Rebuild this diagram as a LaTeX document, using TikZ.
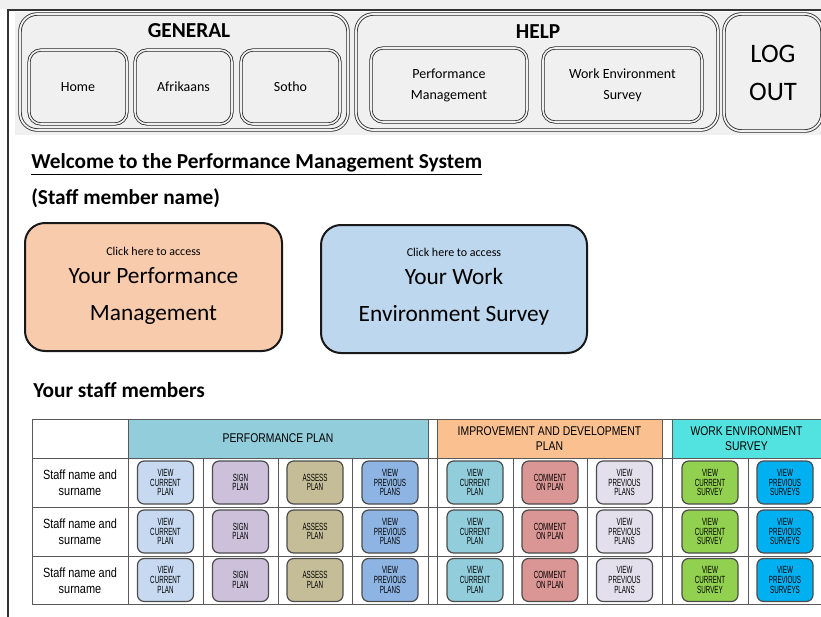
\documentclass[tikz,border=0pt]{standalone}
\usepackage{fontspec}
\setmainfont{Carlito}
\newfontfamily\tabfont[FakeStretch=0.82]{Liberation Sans}
\newfontfamily\btnfont[FakeStretch=0.6]{Liberation Sans}
\usepackage{tikz}

\definecolor{barfill}{HTML}{F0F0F0}
\definecolor{perforange}{HTML}{F8CBAD}
\definecolor{wesblue}{HTML}{BDD7EE}
\definecolor{hdrperf}{HTML}{92CDDC}
\definecolor{hdrimp}{HTML}{FAC090}
\definecolor{hdrwes}{HTML}{52E3E0}
\definecolor{curplan}{HTML}{C6D9F1}
\definecolor{signplan}{HTML}{CCC0DA}
\definecolor{assessplan}{HTML}{C4BD97}
\definecolor{prevplan}{HTML}{8DB4E2}
\definecolor{impcur}{HTML}{92CDDC}
\definecolor{comment}{HTML}{DA9694}
\definecolor{impprev}{HTML}{E4DFEC}
\definecolor{cursurvey}{HTML}{92D050}
\definecolor{prevsurvey}{HTML}{00B0F0}

\begin{document}
\begin{tikzpicture}[x=0.75pt,y=0.75pt,yscale=-1,xscale=1,
  grpbox/.style={draw=black!85, double=barfill, double distance=1.4pt, line width=0.6pt, rounded corners=13pt, inner sep=0pt},
  navbtn/.style={draw=black!85, double=barfill, double distance=1.2pt, line width=0.6pt, rounded corners=9pt, inner sep=0pt, minimum height=55.5pt, align=center, font=\fontsize{10.5}{15.75}\selectfont},
  grptitle/.style={inner sep=0pt, font=\bfseries\fontsize{16}{18}\selectfont},
  headline/.style={anchor=west, inner sep=0pt, font=\bfseries\fontsize{16}{18}\selectfont},
  bigbtn/.style={draw=black!90, line width=1.5pt, rounded corners=15pt, minimum height=96pt, inner sep=0pt},
  clicktxt/.style={inner sep=0pt, font=\fontsize{9}{10}\selectfont},
  bigtxt/.style={inner sep=0pt, align=center, font=\fontsize{17.5}{27.75}\selectfont},
  grid/.style={draw=black!65, line width=0.6pt},
  hdrtxt/.style={inner sep=0pt, align=center, font=\tabfont\fontsize{9.5}{11.25}\selectfont},
  nametxt/.style={inner sep=0pt, align=center, font=\tabfont\fontsize{10}{12}\selectfont},
  tblbtn/.style={draw=black!70, line width=0.9pt, rounded corners=5pt, minimum width=42pt, minimum height=32.25pt, inner sep=0pt, align=center, font=\btnfont\fontsize{7.8}{7.2}\selectfont}
]
\useasboundingbox (0,0) rectangle (821,617);

% top bar
\fill[gray!12] (0,0) rectangle (821,9);
\fill[barfill] (15,12) rectangle (821,135);
\draw[line width=1.1pt, black!80] (8,617) -- (8,10) -- (821,10);

\node[grpbox, minimum width=246pt, minimum height=87pt] (general) at (184,72) {};
\node[grptitle] (generaltitle) at (189,31) {GENERAL};
\node[navbtn, minimum width=73.5pt] (home) at (78,87) {Home};
\node[navbtn, minimum width=72.75pt] (afrikaans) at (183.5,87) {Afrikaans};
\node[navbtn, minimum width=74.25pt] (sotho) at (290.5,87) {Sotho};

\node[grpbox, minimum width=271.5pt, minimum height=87pt] (help) at (537,72) {};
\node[grptitle] (helptitle) at (538,32) {HELP};
\node[navbtn, minimum width=117pt] (helppm) at (449,85) {Performance\\Management};
\node[navbtn, minimum width=119.25pt] (helpwes) at (622.5,85) {Work Environment\\Survey};

\node[grpbox, minimum width=73.5pt, minimum height=87.75pt, align=center, font=\fontsize{20}{28.5}\selectfont] (logout) at (773,72.5) {LOG\\OUT};

% welcome
\node[headline] (welcome) at (31,164) {\underline{Welcome to the Performance Management System}};
\node[headline] (staffname) at (31,198) {(Staff member name)};

\node[bigbtn, fill=perforange, minimum width=192.75pt] (perfbox) at (153.5,287) {};
\node[clicktxt] (perfclick) at (153.5,251) {Click here to access};
\node[bigtxt] (perftxt) at (153.5,296) {Your Performance\\Management};

\node[bigbtn, fill=wesblue, minimum width=199.5pt] (wesbox) at (454,289) {};
\node[clicktxt] (wesclick) at (454,252) {Click here to access};
\node[bigtxt] (westxt) at (454,297) {Your Work\\Environment Survey};

\node[headline] (staffmembers) at (33,390) {Your staff members};

% table headers
\fill[hdrperf] (128,419) rectangle (428,458);
\fill[hdrimp] (437,419) rectangle (662,458);
\fill[hdrwes] (672,419) rectangle (821,458);
\node[hdrtxt] (hdrperftxt) at (278,438) {PERFORMANCE PLAN};
\node[hdrtxt] (hdrimptxt) at (549.5,439) {IMPROVEMENT AND DEVELOPMENT\\PLAN};
\node[hdrtxt] (hdrwestxt) at (746.5,439) {WORK ENVIRONMENT\\SURVEY};

% table grid
\draw[grid] (32,419) -- (821,419);
\draw[grid] (32,458) -- (821,458);
\draw[grid] (32,507) -- (821,507);
\draw[grid] (32,556) -- (821,556);
\draw[grid] (32,604) -- (821,604);
\draw[grid] (32,419) -- (32,604);
\draw[grid] (128,419) -- (128,604);
\draw[grid] (428,419) -- (428,604);
\draw[grid] (437,419) -- (437,604);
\draw[grid] (662,419) -- (662,604);
\draw[grid] (672,419) -- (672,604);
\draw[grid] (203,458) -- (203,604);
\draw[grid] (278,458) -- (278,604);
\draw[grid] (352,458) -- (352,604);
\draw[grid] (513,458) -- (513,604);
\draw[grid] (587,458) -- (587,604);
\draw[grid] (748,458) -- (748,604);

% row 1
\node[nametxt] (name1) at (80,483) {Staff name and\\surname};
\node[tblbtn, fill=curplan] (cur1) at (165.5,482.5) {VIEW\\CURRENT\\PLAN};
\node[tblbtn, fill=signplan] (sign1) at (240.5,482.5) {SIGN\\PLAN};
\node[tblbtn, fill=assessplan] (assess1) at (315,482.5) {ASSESS\\PLAN};
\node[tblbtn, fill=prevplan] (prev1) at (390,482.5) {VIEW\\PREVIOUS\\PLANS};
\node[tblbtn, fill=impcur] (impcur1) at (475,482.5) {VIEW\\CURRENT\\PLAN};
\node[tblbtn, fill=comment] (comment1) at (550,482.5) {COMMENT\\ON PLAN};
\node[tblbtn, fill=impprev] (impprev1) at (624.5,482.5) {VIEW\\PREVIOUS\\PLANS};
\node[tblbtn, fill=cursurvey] (cursurvey1) at (710,482.5) {VIEW\\CURRENT\\SURVEY};
\node[tblbtn, fill=prevsurvey] (prevsurvey1) at (785,482.5) {VIEW\\PREVIOUS\\SURVEYS};

% row 2
\node[nametxt] (name2) at (80,532) {Staff name and\\surname};
\node[tblbtn, fill=curplan] (cur2) at (165.5,531.5) {VIEW\\CURRENT\\PLAN};
\node[tblbtn, fill=signplan] (sign2) at (240.5,531.5) {SIGN\\PLAN};
\node[tblbtn, fill=assessplan] (assess2) at (315,531.5) {ASSESS\\PLAN};
\node[tblbtn, fill=prevplan] (prev2) at (390,531.5) {VIEW\\PREVIOUS\\PLANS};
\node[tblbtn, fill=impcur] (impcur2) at (475,531.5) {VIEW\\CURRENT\\PLAN};
\node[tblbtn, fill=comment] (comment2) at (550,531.5) {COMMENT\\ON PLAN};
\node[tblbtn, fill=impprev] (impprev2) at (624.5,531.5) {VIEW\\PREVIOUS\\PLANS};
\node[tblbtn, fill=cursurvey] (cursurvey2) at (710,531.5) {VIEW\\CURRENT\\SURVEY};
\node[tblbtn, fill=prevsurvey] (prevsurvey2) at (785,531.5) {VIEW\\PREVIOUS\\SURVEYS};

% row 3
\node[nametxt] (name3) at (80,581) {Staff name and\\surname};
\node[tblbtn, fill=curplan] (cur3) at (165.5,580) {VIEW\\CURRENT\\PLAN};
\node[tblbtn, fill=signplan] (sign3) at (240.5,580) {SIGN\\PLAN};
\node[tblbtn, fill=assessplan] (assess3) at (315,580) {ASSESS\\PLAN};
\node[tblbtn, fill=prevplan] (prev3) at (390,580) {VIEW\\PREVIOUS\\PLANS};
\node[tblbtn, fill=impcur] (impcur3) at (475,580) {VIEW\\CURRENT\\PLAN};
\node[tblbtn, fill=comment] (comment3) at (550,580) {COMMENT\\ON PLAN};
\node[tblbtn, fill=impprev] (impprev3) at (624.5,580) {VIEW\\PREVIOUS\\PLANS};
\node[tblbtn, fill=cursurvey] (cursurvey3) at (710,580) {VIEW\\CURRENT\\SURVEY};
\node[tblbtn, fill=prevsurvey] (prevsurvey3) at (785,580) {VIEW\\PREVIOUS\\SURVEYS};

\end{tikzpicture}
\end{document}
